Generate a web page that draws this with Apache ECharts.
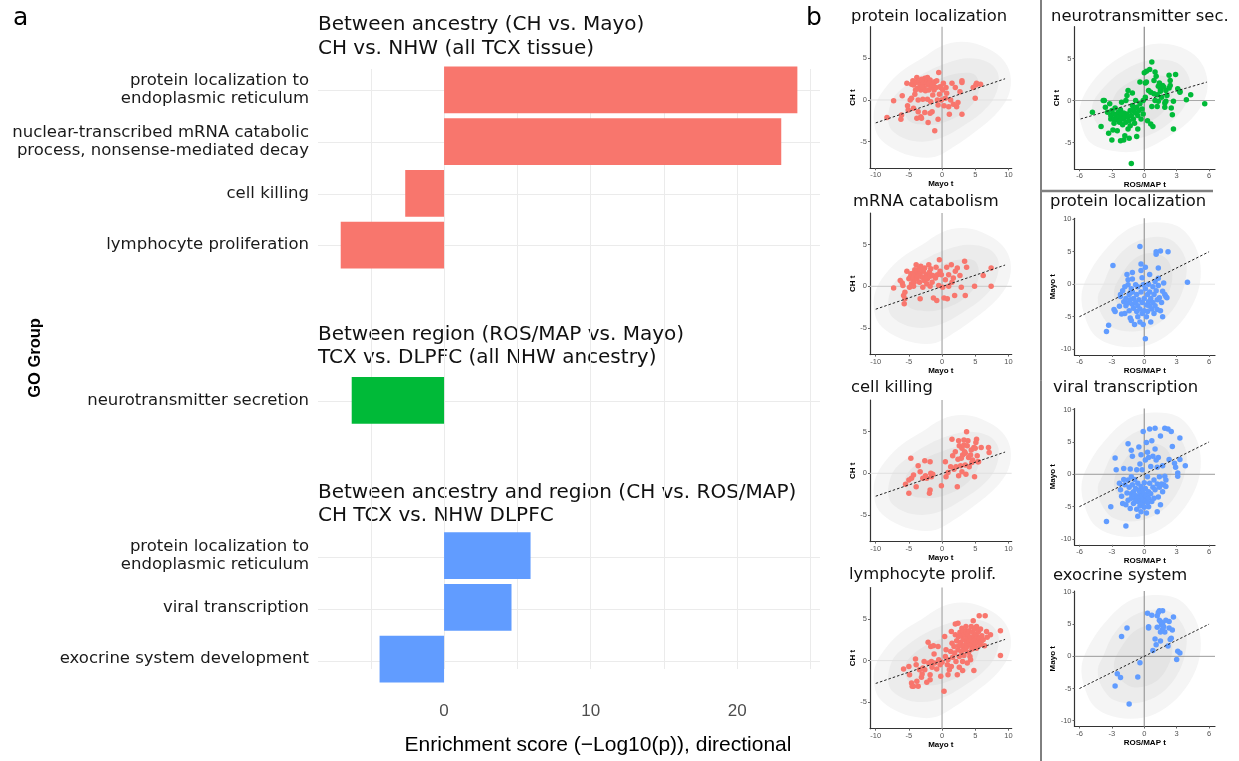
<!DOCTYPE html>
<html><head><meta charset="utf-8">
<script src="https://cdn.jsdelivr.net/npm/echarts@6/dist/echarts.min.js"></script>
<style>html,body{margin:0;padding:0;background:#fff}#c{width:1239px;height:761px}</style>
</head><body><div id="c"></div>
<script>
// ================= Panel a data =================
const labelsAncestry = ['protein localization to\nendoplasmic reticulum','nuclear-transcribed mRNA catabolic\nprocess, nonsense-mediated decay','cell killing','lymphocyte proliferation'];
const scoresAncestry = [24.1, 23.0, -2.65, -7.05];
const labelsRegion = ['neurotransmitter secretion'];
const scoresRegion = [-6.3];
const labelsBoth = ['protein localization to\nendoplasmic reticulum','viral transcription','exocrine system development'];
const scoresBoth = [5.9, 4.6, -4.4];
const facetTitles = ['Between ancestry (CH vs. Mayo)\nCH vs. NHW (all TCX tissue)','Between region (ROS/MAP vs. Mayo)\nTCX vs. DLPFC (all NHW ancestry)','Between ancestry and region (CH vs. ROS/MAP)\nCH TCX vs. NHW DLPFC'];
const enrichTicks = [0, 10, 20];

// ================= Panel b data =================
const tickMayoX = [-10,-5,0,5,10];
const tickCHY = [-5,0,5];
const tickROSX = [-6,-3,0,3,6];
const tickMayoY = [-10,-5,0,5,10];
const regMayoCH = [[-10,-2.75],[9.5,2.55]];
const regROSCH = [[-5.9,-2.2],[5.8,2.2]];
const regROSMayo = [[-6,-5],[6,5]];

// background gene clouds (contour outlines)
const cloudMayoCH = [
  [[-10.3,-2.5],[-9.5,-4.5],[-7,-6],[-4,-6.8],[-1,-6.8],[2,-5.5],[5,-3.8],[8,-1.8],[10,0.5],[10.3,3],[9,5],[6,6.5],[3,7],[0,6.5],[-3,5],[-6,3.5],[-8.5,1.5],[-10,-0.5]],
  [[-8,-3],[-6,-4.5],[-3,-5],[0,-4.5],[3,-3.2],[6,-1.5],[8,0.5],[8.5,3],[7,4.5],[4,5],[1,4.5],[-2,3.5],[-5,2],[-7.5,0]],
  [[-5,-2.5],[-2,-3],[1,-2.5],[4,-1],[5.5,1],[5,3],[2.5,3.2],[-0.5,2.5],[-3.5,1.3],[-5.5,-0.5]]
];
const cloudROSCH = [
  [[-5.8,-3],[-5,-5],[-3,-6],[-0.5,-6],[2,-4.5],[4.5,-2],[5.8,1],[5.5,4],[4,6],[1.5,6.8],[-1,6],[-3.5,4],[-5.2,1.5],[-6,-1]],
  [[-4.5,-2.5],[-3,-4.2],[-0.5,-4.5],[2,-3],[3.8,-0.5],[4.2,2.5],[3,4.5],[0.5,4.8],[-2,3.5],[-3.8,1.5],[-4.8,-0.5]],
  [[-3,-1.8],[-1,-3],[1.2,-2],[2.5,0.2],[2.5,2.5],[0.8,3],[-1.2,2.3],[-2.7,0.7]]
];
const cloudROSMayo = [
  [[-5.5,-5],[-4.5,-8],[-2.5,-9.5],[0,-9.5],[2,-8],[3.8,-5],[5,-1],[5.2,3],[4.5,6.5],[3,9],[0.5,9.5],[-1.5,8.5],[-3.5,5.5],[-5,2],[-5.8,-1.5]],
  [[-4,-4.5],[-2.8,-6.8],[-0.5,-7.2],[1.5,-5.8],[3,-3],[3.8,0.5],[3.8,4],[2.5,6.8],[0.5,7.2],[-1.5,5.8],[-3,3],[-3.8,0],[-4.3,-2]],
  [[-2.5,-3],[-1,-4.8],[1,-4],[2.2,-1.5],[2.6,1.5],[2,4],[0.5,4.8],[-1,3.8],[-2.2,1.2],[-2.8,-1]]
];

const ptsProtLoc = [[-8.3,-2.1],[-7.3,-0.1],[-6.2,-2.3],[-6.1,-1.8],[-6.0,0.5],[-5.3,2.0],[-5.1,-1.2],[-4.8,0],[-4.6,1.9],[-4.6,0.2],[-4.3,1.8],[-4.1,0.7],[-3.9,2.1],[-3.8,2.7],[-3.7,1.4],[-3.6,0],[-3.6,-1.4],[-3.4,2.2],[-3.3,1.8],[-3.2,1.2],[-3.1,2.5],[-2.9,0.1],[-2.8,2.0],[-2.7,1.5],[-2.6,2.6],[-2.5,1.1],[-2.4,2.1],[-2.3,2.4],[-2.2,0.1],[-2.2,2.7],[-2.1,1.8],[-2.0,1.2],[-1.9,2.1],[-1.8,2.4],[-1.7,-0.2],[-1.6,1.5],[-1.5,-1.4],[-1.4,0.6],[-1.3,2.0],[-1.2,1.2],[-1.1,2.2],[-0.9,1.5],[-0.8,2.3],[-0.7,0],[-0.6,-0.6],[-0.5,3.3],[-0.4,0.7],[-0.3,1.6],[-0.2,1.5],[-0.1,0],[0.1,1.2],[0.2,2.0],[0.3,-0.7],[0.5,0.2],[0.6,1.5],[0.7,0.8],[1.0,-0.8],[1.1,-1.7],[1.3,0],[1.5,2.0],[1.7,-0.5],[2.0,1.5],[2.2,-0.8],[2.4,-0.3],[2.7,1.0],[3.0,2.1],[3.0,2.3],[4.7,1.5],[5.0,0.2],[5.1,1.8],[5.2,2.0],[5.8,1.9],[-2.1,-2.7],[-1.1,-3.7],[-3.2,-2.0],[-2.6,-1.5],[-4.3,-1.0],[-5.2,-0.7],[-1.8,-1.6],[-3.8,-2.2],[-3.1,-2.2],[-0.6,-2.3],[3.0,-1.7],[-4.0,1.2],[-3.0,1.6],[-2.0,2.0],[-1.5,1.8],[-4.4,2.3]];
const ptsMRNA = [[-7.3,-0.2],[-6.0,0.4],[-5.9,0.1],[-5.8,-1.1],[-5.7,-2.1],[-5.6,-1.5],[-5.3,1.8],[-5.0,0.9],[-4.9,-0.1],[-4.8,1.1],[-4.7,1.5],[-4.6,0.3],[-4.4,0.9],[-4.3,1.6],[-4.2,0.5],[-4.0,1.3],[-3.9,2.6],[-3.8,0.9],[-3.7,1.8],[-3.5,2.1],[-3.4,0.5],[-3.3,1.5],[-3.2,2.4],[-3.0,1.1],[-2.9,-0.1],[-2.8,1.8],[-2.7,0.7],[-2.6,2.2],[-2.4,1.4],[-2.3,0.3],[-2.2,0.9],[-2.0,2.6],[-1.9,1.7],[-1.8,1.2],[-1.7,2.1],[-1.5,0.5],[-1.4,1.3],[-1.3,-1.4],[-1.0,1.0],[-0.9,2.3],[-0.8,-1.7],[-0.7,1.4],[-0.5,0.1],[-0.4,3.2],[-0.3,1.8],[-0.1,1.4],[0.1,-0.1],[0.3,-1.4],[0.5,0.8],[0.7,2.3],[0.8,-1.5],[1.0,1.4],[1.4,2.6],[1.5,0.5],[1.7,1.0],[1.9,-1.1],[2.0,1.8],[2.3,2.2],[2.7,1.3],[2.9,-0.1],[3.4,3.0],[3.5,-1.1],[3.7,2.3],[4.9,0],[6.2,1.3],[7.4,2.2],[7.4,0],[-5.6,-0.7],[-3.3,-1.5],[-6.3,0.7],[-4.3,0],[-1.8,0],[1.0,0],[-3.6,1.2],[-2.5,1.0],[-4.1,2.0],[-2.9,2.0]];
const ptsCellKill = [[-4.7,1.8],[-3.6,0.9],[-4.6,-0.6],[-5.0,-0.8],[-5.5,-1.3],[-5.0,-2.4],[-4.3,-0.2],[-3.9,-1.6],[-2.6,1.5],[-2.5,-0.3],[-2.3,-0.6],[-1.8,-2.0],[-1.9,-2.4],[-1.8,1.4],[-1.7,0],[-1.6,-0.4],[-1.4,-0.1],[-0.1,-1.5],[0.5,1.4],[0.6,-0.4],[0.9,0.1],[1.3,0.8],[1.5,4.1],[1.6,2.1],[1.8,0.5],[2.0,2.6],[2.1,0.8],[2.3,-1.6],[2.4,1.7],[2.5,-0.3],[2.5,3.9],[2.6,3.3],[2.8,0.9],[2.9,1.8],[3.0,3.0],[3.0,0.2],[3.1,2.2],[3.3,4.0],[3.3,3.4],[3.4,2.6],[3.5,2.4],[3.5,1.0],[3.6,-0.1],[3.7,5.0],[3.8,3.3],[3.9,3.9],[4.0,1.9],[4.1,0.8],[4.3,2.2],[4.4,2.8],[4.5,1.3],[4.6,1.6],[4.8,3.1],[4.9,-0.4],[5.0,3.0],[5.1,3.7],[5.2,4.1],[5.3,2.1],[5.4,1.4],[5.5,1.4],[5.9,3.1],[7.0,3.1],[7.1,2.5],[-2.9,-0.6],[-3.3,0.2]];
const ptsLymph = [[-5.8,-1.0],[-5.0,-0.7],[-4.9,-1.7],[-4.6,-2.7],[-4.5,-3.1],[-4.3,-3.1],[-4.0,0.2],[-3.9,-0.5],[-3.8,-2.5],[-3.6,-3.1],[-3.4,-1.1],[-3.1,-2.0],[-2.9,-0.9],[-2.7,-0.1],[-2.6,-1.1],[-2.1,2.2],[-2.0,-0.3],[-1.8,-1.7],[-1.8,-2.3],[-1.7,1.7],[-1.6,-0.1],[-1.5,-0.8],[-1.3,1.8],[-1.2,0.8],[-1.1,-0.3],[-0.8,-1.0],[-0.6,1.7],[-0.5,0.1],[-0.3,-0.5],[-0.2,-1.9],[0,-0.2],[0.3,-3.7],[0.4,2.9],[0.5,0.5],[0.6,1.3],[0.8,-0.5],[0.9,-1.7],[1.1,-1.1],[1.3,1.1],[1.4,3.5],[1.5,2.1],[1.6,0.4],[1.8,1.7],[1.9,0.9],[2.0,3.1],[2.0,4.4],[2.1,-0.1],[2.2,2.4],[2.3,-1.7],[2.4,4.5],[2.4,1.3],[2.5,2.9],[2.5,1.8],[2.6,0.5],[2.7,3.4],[2.8,2.2],[2.9,1.1],[2.9,3.0],[3.0,3.9],[3.1,1.7],[3.1,-0.1],[3.2,2.5],[3.2,3.5],[3.3,1.8],[3.3,0.6],[3.4,3.1],[3.5,2.5],[3.5,1.3],[3.6,3.5],[3.6,4.1],[3.7,2.1],[3.8,2.7],[3.8,1.7],[3.9,3.2],[4.0,1.0],[4.1,2.3],[4.1,3.6],[4.2,0.5],[4.2,2.8],[4.3,1.9],[4.4,4.1],[4.4,2.5],[4.5,1.4],[4.6,3.4],[4.7,4.8],[4.7,2.3],[4.8,2.9],[4.8,-1.2],[4.9,1.7],[4.9,3.8],[5.0,2.1],[5.1,3.2],[5.1,2.5],[5.2,4.1],[5.2,1.5],[5.3,2.9],[5.4,2.2],[5.5,3.5],[5.6,5.4],[5.6,2.7],[5.7,1.9],[5.8,3.8],[5.9,2.3],[6.0,3.0],[6.2,2.5],[6.4,1.8],[6.5,5.4],[6.7,3.5],[6.8,2.8],[7.3,3.1],[8.8,3.6],[8.8,0.6],[4.3,0.1],[0.9,0.1],[1.4,-0.7],[2.6,-0.8],[3.1,-1.2],[3.8,-0.3],[-3.0,-1.6],[-2.3,-2.6]];
const ptsNeuro = [[-4.8,-1.4],[-4.0,-3.1],[-3.8,0],[-3.7,0],[-3.6,-0.8],[-3.4,-1.4],[-3.2,-0.4],[-3.1,-1.8],[-3.1,-2.2],[-3.0,-4.7],[-3.0,-1.2],[-2.9,-3.5],[-2.8,-2.2],[-2.8,-1.6],[-2.7,-0.9],[-2.6,-1.8],[-2.5,-2.3],[-2.5,-3.6],[-2.4,-1.8],[-2.4,-1.4],[-2.3,-2.6],[-2.3,-2.0],[-2.2,-1.1],[-2.2,-2.3],[-2.1,-1.6],[-2.1,-0.2],[-2.0,-2.9],[-2.0,-1.8],[-1.9,-4.7],[-1.9,-2.2],[-1.9,-1.5],[-1.8,-4.2],[-1.8,-2.0],[-1.7,0],[-1.7,-2.6],[-1.6,0.6],[-1.6,-1.6],[-1.5,-3.4],[-1.5,1.2],[-1.5,-1.9],[-1.4,-2.4],[-1.4,-4.5],[-1.3,-1.2],[-1.2,-7.5],[-1.2,-1.8],[-1.1,0.9],[-1.1,-0.6],[-1.0,-1.2],[-1.0,-2.2],[-0.9,-0.9],[-0.9,-2.7],[-0.8,0],[-0.8,-1.5],[-0.7,-0.8],[-0.7,-4.3],[-0.6,-1.8],[-0.6,-3.4],[-0.5,-1.2],[-0.4,-0.4],[-0.4,2.2],[-0.3,-2.2],[-0.2,-1.0],[-0.1,0],[-0.1,-1.6],[0,3.3],[0.1,2.1],[0.1,0.4],[0.2,2.2],[0.2,3.5],[0.3,-2.4],[0.4,1.2],[0.5,3.7],[0.6,-2.8],[0.6,1.0],[0.7,4.6],[0.7,-0.7],[0.8,-3.1],[0.9,0.8],[0.9,2.4],[1.0,3.4],[1.0,0],[1.1,2.9],[1.2,-0.7],[1.2,0.7],[1.3,1.7],[1.3,-0.1],[1.4,2.1],[1.5,1.3],[1.5,1.1],[1.6,0.4],[1.7,1.8],[1.8,1.6],[1.9,-0.8],[1.9,-0.3],[2.0,1.2],[2.0,-0.1],[2.1,0.6],[2.3,3.0],[2.4,2.4],[2.5,-0.9],[2.6,-1.7],[2.7,-3.4],[2.7,-0.1],[2.9,3.1],[3.1,1.4],[3.3,1.0],[3.3,1.1],[3.9,0.1],[4.3,0.7],[5.6,-0.4],[2.4,1.8],[2.3,1.5],[-3.3,-3.9],[-2.2,-4.8],[-2.8,-2.7],[-1.3,-3.0]];
const ptsProtLocB = [[-3.5,-7.3],[-3.3,-6.3],[-2.9,2.9],[-2.8,-3.9],[-2.7,-4.2],[-2.3,-3.4],[-2.2,-1.9],[-2.2,-1.6],[-2.1,-4.6],[-2.0,-1.0],[-1.9,-2.7],[-1.8,-4.5],[-1.8,-0.4],[-1.7,-2.2],[-1.7,-3.3],[-1.6,1.5],[-1.5,-2.9],[-1.5,-0.1],[-1.4,-1.6],[-1.4,-4.1],[-1.3,-5.2],[-1.3,-2.4],[-1.2,-0.7],[-1.2,-5.6],[-1.1,-3.1],[-1.1,-1.2],[-1.1,1.8],[-1.0,-3.7],[-1.0,-2.2],[-0.9,-6.2],[-0.8,-2.8],[-0.8,-0.1],[-0.7,-4.2],[-0.7,-1.6],[-0.6,-3.3],[-0.6,-5.0],[-0.5,-2.4],[-0.4,-5.8],[-0.4,-3.8],[-0.4,5.8],[-0.3,2.1],[-0.3,-1.2],[-0.3,3.1],[-0.2,-4.5],[-0.2,-2.8],[-0.2,1.0],[-0.1,-0.1],[-0.1,-6.2],[0,-2.2],[0,-4.1],[0.1,-8.4],[0.1,2.6],[0.1,-0.7],[0.2,-3.2],[0.2,-5.0],[0.3,-1.6],[0.3,-4.2],[0.4,-2.7],[0.4,0],[0.5,-3.4],[0.5,-1.2],[0.6,-5.8],[0.6,-2.2],[0.7,-3.8],[0.8,-0.4],[0.8,-2.8],[0.9,-1.6],[0.9,-4.5],[1.0,0.4],[1.0,-3.3],[1.1,-1.0],[1.1,4.6],[1.1,5.0],[1.2,-2.4],[1.2,-3.9],[1.3,0.9],[1.3,-0.2],[1.3,2.5],[1.4,-2.1],[1.5,5.1],[1.5,-4.1],[1.6,-2.8],[1.7,-1.1],[1.7,-5.0],[1.8,0.2],[1.9,-1.6],[2.0,-1.9],[2.1,-2.1],[2.2,5.0],[4.0,0.3],[-1.1,0.8],[-1.5,0.7],[0.5,1.5],[-1.3,-1.3],[-0.6,-0.4]];
const ptsViral = [[-3.5,-7.3],[-3.1,-5.0],[-2.7,2.5],[-2.6,0.7],[-2.3,-1.4],[-2.2,-2.4],[-2.1,-3.4],[-2.0,-4.5],[-1.9,-0.8],[-1.9,0.9],[-1.8,-1.6],[-1.7,-4.7],[-1.7,-8.0],[-1.6,-2.9],[-1.5,4.7],[-1.5,-4.0],[-1.5,-0.9],[-1.4,-2.0],[-1.3,-5.3],[-1.3,0.8],[-1.2,-3.0],[-1.2,-3.7],[-1.1,2.8],[-1.1,-1.6],[-1.0,-4.5],[-1.0,-2.7],[-0.9,-3.2],[-0.9,-0.8],[-0.8,-3.9],[-0.8,-2.2],[-0.7,-5.4],[-0.7,-3.4],[-0.6,-6.5],[-0.6,-1.4],[-0.6,-4.2],[-0.5,-2.5],[-0.5,4.2],[-0.5,-3.6],[-0.4,1.6],[-0.4,-4.9],[-0.4,-2.9],[-0.3,3.0],[-0.3,-4.1],[-0.3,-1.9],[-0.3,-5.8],[-0.2,-3.4],[-0.2,0.7],[-0.2,-4.5],[-0.1,-2.4],[-0.1,-3.9],[-0.1,6.6],[0,-1.3],[0,-3.0],[0,-5.1],[0.1,2.2],[0.1,-4.1],[0.1,-2.2],[0.2,4.9],[0.2,-6.0],[0.2,-3.4],[0.3,-0.4],[0.3,-4.4],[0.3,3.4],[0.4,-2.7],[0.4,-5.0],[0.4,2.6],[0.4,-3.7],[0.5,-1.4],[0.5,7.0],[0.6,-3.0],[0.6,1.2],[0.7,-4.2],[0.7,5.2],[0.8,-2.0],[0.8,2.8],[0.9,-0.9],[0.9,-3.7],[1.0,3.9],[1.0,7.1],[1.0,-2.4],[1.1,2.2],[1.2,-1.5],[1.2,-5.8],[1.2,1.1],[1.3,-3.5],[1.3,2.6],[1.4,-2.0],[1.4,-0.4],[1.5,5.9],[1.5,-4.7],[1.6,-1.5],[1.7,1.3],[1.7,-2.7],[1.8,-1.6],[1.9,7.1],[1.9,-0.3],[2.0,-1.9],[2.0,-0.9],[2.2,7.0],[2.3,2.3],[2.5,6.6],[2.6,4.3],[2.8,1.7],[2.9,1.1],[3.1,0.2],[3.1,-0.3],[3.3,5.6],[3.3,2.3],[3.8,1.3],[-1.2,3.7],[-0.7,0.7],[-1.2,-0.4]];
const ptsExo = [[-2.7,-4.6],[-2.5,-2.7],[-2.2,-3.3],[-2.1,3.1],[-1.6,4.4],[-1.4,-7.4],[-0.6,-3.2],[-0.4,-1.0],[0.3,6.7],[0.4,4.6],[0.4,4.4],[0.7,6.4],[0.8,0.9],[1.0,2.7],[1.1,1.8],[1.2,4.5],[1.2,6.3],[1.3,6.8],[1.4,7.1],[1.4,5.6],[1.5,2.4],[1.5,5.4],[1.6,4.9],[1.7,4.2],[1.7,7.1],[1.7,5.1],[1.8,4.6],[1.9,3.8],[2.0,5.6],[2.2,1.6],[2.3,4.4],[2.3,5.4],[2.4,2.6],[2.5,2.8],[2.6,4.1],[2.7,6.1],[3.0,-0.5],[3.1,0.8],[3.3,0.5],[1.5,3.8]];

const RED = '#F8766D', GREEN = '#00BA38', BLUE = '#619CFF';

// ================= build panel a =================
const gapNames = ['gap1','gap2','gap3','gap4'];
const categories = [...labelsAncestry, gapNames[0], gapNames[1], ...labelsRegion, gapNames[2], gapNames[3], ...labelsBoth];
const nulls = n => Array(n).fill(null);
const redData = [...scoresAncestry, ...nulls(8)];
const greenData = [...nulls(6), ...scoresRegion, ...nulls(5)];
const blueData = [...nulls(9), ...scoresBoth];
const isGap = v => v.indexOf('gap') === 0;

const grids = [], xAxes = [], yAxes = [], series = [];
const FONT_V = 'DejaVu Sans', FONT_A = 'Liberation Sans';

// grid 0: bars
grids.push({left:318, top:64, width:560, height:623});
xAxes.push({gridIndex:0, type:'value', min:-8.6, max:29.6,
  axisLine:{show:false}, axisTick:{show:false}, splitLine:{show:false},
  axisLabel:{customValues: enrichTicks, fontSize:17, color:'#4d4d4d', fontFamily:FONT_A, margin:18},
  name:'Enrichment score (\u2212Log10(p)), directional', nameLocation:'middle', nameGap:50,
  nameTextStyle:{fontSize:21, color:'#000', fontFamily:FONT_A}});
yAxes.push({gridIndex:0, type:'category', data:categories, inverse:true,
  axisLine:{show:false}, axisTick:{show:false}, splitLine:{show:false},
  axisLabel:{interval:0, formatter:v => isGap(v) ? '' : v, fontSize:16.5, lineHeight:18.5, color:'#1a1a1a', fontFamily:FONT_V, margin:9}});
// grid 1: horizontal grid lines at row centres
grids.push({left:318, top:64 + 623/24, width:502, height:623*11/12});
xAxes.push({gridIndex:1, type:'value', min:-8.6, max:29.6, axisLine:{show:false}, axisTick:{show:false}, axisLabel:{show:false}, splitLine:{show:false}});
yAxes.push({gridIndex:1, type:'category', data:categories, inverse:true, boundaryGap:false,
  axisLine:{show:false}, axisTick:{show:false}, axisLabel:{show:false},
  splitLine:{show:true, interval:(i, v) => !isGap(v), lineStyle:{color:'#ebebeb', width:1}}});
// grid 2: vertical grid lines
const gx0 = 444 - 10*14.65;
grids.push({left:gx0, top:69, width:40*14.65, height:600});
xAxes.push({gridIndex:2, type:'value', min:-10, max:30, interval:5,
  axisLine:{show:false}, axisTick:{show:false}, axisLabel:{show:false},
  splitLine:{show:true, showMinLine:false, showMaxLine:false, lineStyle:{color:'#ebebeb', width:1}}});
yAxes.push({gridIndex:2, type:'value', min:0, max:1, axisLine:{show:false}, axisTick:{show:false}, axisLabel:{show:false}, splitLine:{show:false}});

[[redData, RED], [greenData, GREEN], [blueData, BLUE]].forEach(([d, c]) => {
  series.push({type:'bar', xAxisIndex:0, yAxisIndex:0, data:d, barWidth:'90%', barGap:'-100%',
    itemStyle:{color:c}, silent:true, z:3});
});

// ================= build panel b =================
const panels = [
  {title:'protein localization', tx:851, ty:17, left:870, top:26.7, width:141.7, height:141.6, xr:[-10.86,10.5], yr:[-8.2,8.8], xt:tickMayoX, yt:tickCHY, xn:'Mayo t', yn:'CH t', cloud:cloudMayoCH, reg:regMayoCH, pts:ptsProtLoc, color:RED, hz:'#e2e2e2', vz:'#a8a8a8'},
  {title:'mRNA catabolism', tx:853, ty:202, left:870, top:213, width:141.7, height:141.6, xr:[-10.86,10.5], yr:[-8.2,8.8], xt:tickMayoX, yt:tickCHY, xn:'Mayo t', yn:'CH t', cloud:cloudMayoCH, reg:regMayoCH, pts:ptsMRNA, color:RED, hz:'#c8c8c8', vz:'#a8a8a8'},
  {title:'cell killing', tx:851, ty:388, left:870, top:400, width:141.7, height:141.6, xr:[-10.86,10.5], yr:[-8.2,8.8], xt:tickMayoX, yt:tickCHY, xn:'Mayo t', yn:'CH t', cloud:cloudMayoCH, reg:regMayoCH, pts:ptsCellKill, color:RED, hz:'#e2e2e2', vz:'#a8a8a8'},
  {title:'lymphocyte prolif.', tx:849, ty:575, left:870, top:587.5, width:141.7, height:141.2, xr:[-10.86,10.5], yr:[-8.2,8.8], xt:tickMayoX, yt:tickCHY, xn:'Mayo t', yn:'CH t', cloud:cloudMayoCH, reg:regMayoCH, pts:ptsLymph, color:RED, hz:'#e2e2e2', vz:'#a8a8a8'},
  {title:'neurotransmitter sec.', tx:1051, ty:17, left:1074.5, top:26.7, width:140.5, height:142.6, xr:[-6.46,6.55], yr:[-8.2,8.8], xt:tickROSX, yt:tickCHY, xn:'ROS/MAP t', yn:'CH t', cloud:cloudROSCH, reg:regROSCH, pts:ptsNeuro, color:GREEN, hz:'#a8a8a8', vz:'#8a8a8a'},
  {title:'protein localization', tx:1050, ty:202, left:1074.5, top:218.3, width:140.5, height:136.7, xr:[-6.46,6.55], yr:[-10.9,10.15], xt:tickROSX, yt:tickMayoY, xn:'ROS/MAP t', yn:'Mayo t', cloud:cloudROSMayo, reg:regROSMayo, pts:ptsProtLocB, color:BLUE, hz:'#e4e4e4', vz:'#9a9a9a'},
  {title:'viral transcription', tx:1053, ty:388, left:1074.5, top:408.6, width:140.5, height:136.2, xr:[-6.46,6.55], yr:[-10.9,10.15], xt:tickROSX, yt:tickMayoY, xn:'ROS/MAP t', yn:'Mayo t', cloud:cloudROSMayo, reg:regROSMayo, pts:ptsViral, color:BLUE, hz:'#9a9a9a', vz:'#9a9a9a'},
  {title:'exocrine system', tx:1053, ty:576, left:1074.5, top:591, width:140.5, height:135.5, xr:[-6.46,6.55], yr:[-10.9,10.15], xt:tickROSX, yt:tickMayoY, xn:'ROS/MAP t', yn:'Mayo t', cloud:cloudROSMayo, reg:regROSMayo, pts:ptsExo, color:BLUE, hz:'#9a9a9a', vz:'#9a9a9a'}
];
const cloudFills = ['#f5f5f5', '#ececec', '#e4e4e4'];
const graphics = [];

panels.forEach((p, k) => {
  const gi = 3 + k;
  grids.push({left:p.left, top:p.top, width:p.width, height:p.height});
  const axBase = {gridIndex:gi, type:'value', splitLine:{show:false},
    axisLine:{show:true, onZero:false, lineStyle:{color:'#333', width:1.2}},
    nameLocation:'middle', nameGap:11,
    nameTextStyle:{fontSize:8, fontWeight:'bold', color:'#000', fontFamily:FONT_A}};
  xAxes.push(Object.assign({}, axBase, {min:p.xr[0], max:p.xr[1], name:p.xn,
    axisTick:{show:true, length:2, customValues:p.xt, lineStyle:{color:'#666'}},
    axisLabel:{customValues:p.xt, fontSize:7.5, color:'#555', margin:3, fontFamily:FONT_A}}));
  yAxes.push(Object.assign({}, axBase, {min:p.yr[0], max:p.yr[1], name:p.yn, nameGap:12,
    axisTick:{show:true, length:2, customValues:p.yt, lineStyle:{color:'#666'}},
    axisLabel:{customValues:p.yt, fontSize:7.5, color:'#555', margin:3, fontFamily:FONT_A}}));
  const cloud = p.cloud;
  series.push({type:'custom', xAxisIndex:gi, yAxisIndex:gi, z:1, silent:true, data:[[0,0]],
    renderItem:(params, api) => ({type:'group', children: cloud.map((poly, j) => ({
      type:'polygon', shape:{points: poly.map(v => api.coord(v)), smooth:0.35},
      style:{fill: cloudFills[j]}}))})});
  series.push({type:'line', xAxisIndex:gi, yAxisIndex:gi, z:2, silent:true, symbol:'none',
    data:[[p.xr[0],0],[p.xr[1],0]], lineStyle:{color:p.hz, width:1}});
  series.push({type:'line', xAxisIndex:gi, yAxisIndex:gi, z:2, silent:true, symbol:'none',
    data:[[0,p.yr[0]],[0,p.yr[1]]], lineStyle:{color:p.vz, width:1.2}});
  series.push({type:'scatter', xAxisIndex:gi, yAxisIndex:gi, z:3, silent:true, data:p.pts,
    symbolSize:5.5, itemStyle:{color:p.color, opacity:1}});
  series.push({type:'line', xAxisIndex:gi, yAxisIndex:gi, z:4, silent:true, symbol:'none',
    data:p.reg, lineStyle:{color:'#222', width:1, type:[2.5,2]}});
  graphics.push({type:'text', x:p.tx, y:p.ty, style:{text:p.title, fontSize:16.4, fontFamily:FONT_V, fill:'#111', verticalAlign:'middle', align:'left'}});
});

// panel labels, facet titles, axis title, separators
graphics.push({type:'text', x:13, y:18, style:{text:'a', fontSize:25, fontFamily:FONT_V, fill:'#000', verticalAlign:'middle'}});
graphics.push({type:'text', x:806, y:18, style:{text:'b', fontSize:25, fontFamily:FONT_V, fill:'#000', verticalAlign:'middle'}});
const facetTitleY = [25, 334.3, 492.3];
facetTitles.forEach((t, i) => {
  graphics.push({type:'text', x:318, y:facetTitleY[i] - 11.7, style:{text:t, fontSize:20, lineHeight:23.4, fontFamily:FONT_V, fill:'#111', verticalAlign:'top', align:'left'}});
});
graphics.push({type:'text', x:35, y:358, rotation:Math.PI/2, style:{text:'GO Group', fontSize:16.5, fontWeight:'bold', fontFamily:FONT_A, fill:'#000', align:'center', verticalAlign:'middle'}});
graphics.push({type:'line', shape:{x1:1041, y1:0, x2:1041, y2:761}, style:{stroke:'#000', lineWidth:1}});
graphics.push({type:'line', shape:{x1:1041, y1:191, x2:1213, y2:191}, style:{stroke:'#7f7f7f', lineWidth:2.5}});

const chart = echarts.init(document.getElementById('c'), null, {renderer:'canvas'});
chart.setOption({
  animation:false, backgroundColor:'#fff',
  grid:grids, xAxis:xAxes, yAxis:yAxes, series:series, graphic:graphics
});
</script></body></html>
